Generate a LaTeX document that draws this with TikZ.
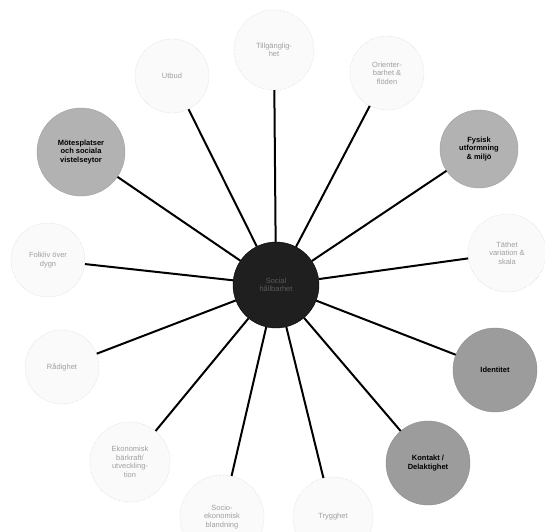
\documentclass[tikz,border=0pt]{standalone}
\usepackage{fontspec}
\setmainfont{Liberation Sans}
\begin{document}
\begin{tikzpicture}[x=1pt,y=-1pt,
  bub/.style={circle,inner sep=0pt,align=center,font=\fontsize{7.5}{8.5}\selectfont},
  light/.style={bub,fill=gray!4,draw=gray!40,densely dotted,text=gray!75},
  mid/.style={bub,fill=gray!60,draw=gray!75,text=black,font=\bfseries\fontsize{7.5}{8.5}\selectfont},
  dark/.style={bub,fill=gray!78,draw=gray!90,text=black,font=\bfseries\fontsize{7.5}{8.5}\selectfont},
  hub/.style={bub,fill=black!88,draw=black,text=black!65},
  spoke/.style={line width=2pt,black}]
\useasboundingbox (0,0) rectangle (545,531);
\fill[white] (0,0) rectangle (545,531);
\node[hub,minimum size=86pt] (c) at (276,285) {Social\\hållbarhet};
\node[light,minimum size=80pt] (till) at (274,50) {Tillgänglig-\\het};
\node[light,minimum size=74pt] (utb) at (172,76) {Utbud};
\node[light,minimum size=74pt] (ori) at (387,73) {Orienter-\\barhet \&\\flöden};
\node[mid,minimum size=78pt] (fys) at (479,149) {Fysisk\\utformning\\\& miljö};
\node[mid,minimum size=88pt] (mot) at (81,152) {Mötesplatser\\och sociala\\vistelseytor};
\node[light,minimum size=78pt] (tat) at (507,253) {Täthet\\variation \&\\skala};
\node[light,minimum size=74pt] (folk) at (48,260) {Folkliv över\\dygn};
\node[dark,minimum size=84pt] (id) at (495,370) {Identitet};
\node[light,minimum size=74pt] (rad) at (62,367) {Rådighet};
\node[dark,minimum size=84pt] (kon) at (428,463) {Kontakt /\\Delaktighet};
\node[light,minimum size=80pt] (eko) at (130,462) {Ekonomisk\\bärkraft/\\utveckling-\\tion};
\node[light,minimum size=84pt] (soc) at (222,517) {Socio-\\ekonomisk\\blandning};
\node[light,minimum size=80pt] (try) at (333,517) {Trygghet};
\foreach \n in {till,utb,ori,fys,mot,tat,folk,id,rad,kon,eko,soc,try}
  \draw[spoke] (c) -- (\n);
\end{tikzpicture}
\end{document}
